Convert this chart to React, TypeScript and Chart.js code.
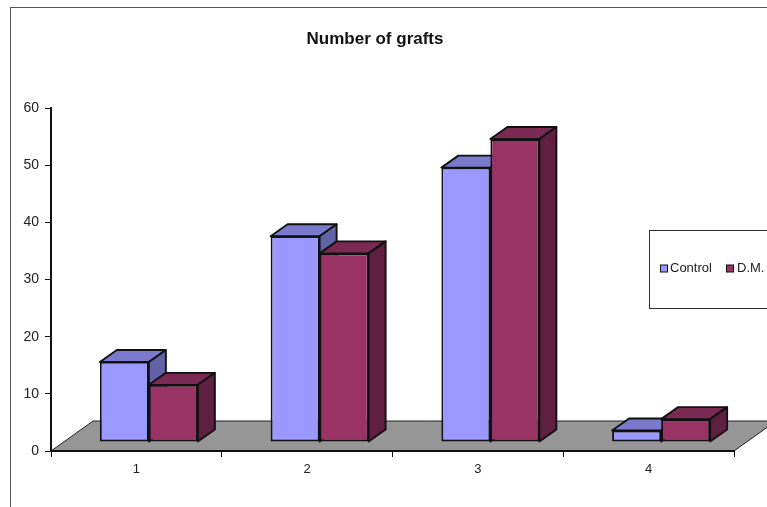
import React, { useEffect, useRef } from "react";
import { Chart, registerables } from "chart.js";

Chart.register(...registerables);

const categories = ["1", "2", "3", "4"];
const controlValues = [14, 36, 48, 2];
const dmValues = [10, 33, 53, 4];
const yTicks = { min: 0, max: 60, step: 10 };
const titleText = "Number of grafts";
const FONT = "'Liberation Sans', Arial, sans-serif";

const seriesStyles: Record<string, { front: string; top: string; side: string }> = {
  Control: { front: "#9999FF", top: "#7A7ACC", side: "#6262A8" },
  "D.M.": { front: "#993366", top: "#7A2952", side: "#5E1F40" },
};

const depth = { dx: 17, dy: -12 };
const barShift = { dx: 12.5, dy: -9 };
const floorDepth = { dx: 42, dy: -30 };
const EDGE = 1.9;

const threeD = {
  id: "threeD",
  beforeDraw(chart: any) {
    const { ctx, chartArea, scales } = chart;
    const y0 = scales.y.getPixelForValue(0);
    ctx.save();
    ctx.beginPath();
    ctx.moveTo(chartArea.left, y0);
    ctx.lineTo(chartArea.left + floorDepth.dx, y0 + floorDepth.dy);
    ctx.lineTo(chartArea.right + floorDepth.dx, y0 + floorDepth.dy);
    ctx.lineTo(chartArea.right, y0);
    ctx.closePath();
    ctx.fillStyle = "#969696";
    ctx.fill();
    ctx.strokeStyle = "#222";
    ctx.lineWidth = 1;
    ctx.stroke();
    ctx.restore();
  },
  beforeDatasetsDraw(chart: any) {
    const { ctx } = chart;
    // Paint back to front: first series (with its depth faces), then the second.
    chart.data.datasets.forEach((ds: any, i: number) => {
      const meta = chart.getDatasetMeta(i);
      const style = seriesStyles[ds.label];
      ctx.save();
      ctx.translate(barShift.dx, barShift.dy);
      ctx.strokeStyle = "#111";
      ctx.lineWidth = EDGE;
      ctx.lineJoin = "round";
      meta.data.forEach((bar: any) => {
        const p = bar.getProps(["x", "y", "base", "width"], true);
        const l = p.x - p.width / 2;
        const r = p.x + p.width / 2;
        ctx.beginPath();
        ctx.moveTo(l, p.y);
        ctx.lineTo(l + depth.dx, p.y + depth.dy);
        ctx.lineTo(r + depth.dx, p.y + depth.dy);
        ctx.lineTo(r, p.y);
        ctx.closePath();
        ctx.fillStyle = style.top;
        ctx.fill();
        ctx.stroke();
        ctx.beginPath();
        ctx.moveTo(r, p.y);
        ctx.lineTo(r + depth.dx, p.y + depth.dy);
        ctx.lineTo(r + depth.dx, p.base + depth.dy);
        ctx.lineTo(r, p.base);
        ctx.closePath();
        ctx.fillStyle = style.side;
        ctx.fill();
        ctx.stroke();
      });
      meta.controller.draw();
      ctx.restore();
    });
    return false;
  },
  afterDraw(chart: any) {
    const { ctx } = chart;
    ctx.save();
    ctx.fillStyle = "#fff";
    ctx.strokeStyle = "#333";
    ctx.lineWidth = 1;
    ctx.fillRect(649.5, 230.5, 140, 78);
    ctx.strokeRect(649.5, 230.5, 140, 78);
    ctx.font = `13px ${FONT}`;
    ctx.textBaseline = "middle";
    const items = [
      { x: 660.5, tx: 670 },
      { x: 726.5, tx: 737 },
    ];
    chart.data.datasets.forEach((ds: any, i: number) => {
      ctx.fillStyle = ds.backgroundColor;
      ctx.fillRect(items[i].x, 265, 7, 7);
      ctx.strokeStyle = "#111";
      ctx.strokeRect(items[i].x, 265, 7, 7);
      ctx.fillStyle = "#222";
      ctx.fillText(ds.label, items[i].tx, 268.5);
    });
    ctx.restore();
  },
};

export default function App() {
  const ref = useRef<HTMLCanvasElement>(null);
  useEffect(() => {
    const chart = new Chart(ref.current!, {
      type: "bar",
      data: {
        labels: categories,
        datasets: [
          { label: "Control", data: controlValues, backgroundColor: seriesStyles.Control.front, borderColor: "#111", borderWidth: EDGE, borderSkipped: false } as any,
          { label: "D.M.", data: dmValues, backgroundColor: seriesStyles["D.M."].front, borderColor: "#111", borderWidth: EDGE, borderSkipped: false } as any,
        ],
      },
      options: {
        responsive: false,
        animation: false,
        devicePixelRatio: 1,
        layout: { padding: { left: 16, right: 33, top: 0, bottom: 0 } },
        categoryPercentage: 0.574,
        barPercentage: 1,
        plugins: {
          legend: { display: false },
          tooltip: { enabled: false },
          title: {
            display: true,
            text: titleText,
            color: "#111",
            font: { family: FONT, size: 17, weight: "bold" },
            padding: { top: 29, bottom: 58.6 },
          },
        },
        scales: {
          x: {
            grid: { drawOnChartArea: false, drawTicks: true, tickLength: 6, color: "#111" },
            border: { color: "#111", width: 2 },
            ticks: { color: "#222", font: { family: FONT, size: 13 }, padding: 5, maxRotation: 0 },
            afterFit: (s: any) => { s.height = 56; },
          },
          y: {
            min: yTicks.min,
            max: yTicks.max,
            ticks: { stepSize: yTicks.step, color: "#222", font: { family: FONT, size: 14 }, padding: 6 },
            grid: { drawOnChartArea: false, drawTicks: true, tickLength: 6, color: "#111" },
            border: { color: "#111", width: 2 },
            afterFit: (s: any) => { s.width = 35; },
          },
        },
      } as any,
      plugins: [threeD],
    });
    return () => chart.destroy();
  }, []);
  return (
    <div style={{ position: "fixed", left: 0, top: 0, width: 767, height: 507, background: "#fff", overflow: "hidden" }}>
      <div style={{ position: "absolute", left: 10, top: 7, width: 780, height: 520, borderLeft: "1px solid #555", borderTop: "1px solid #555" }} />
      <canvas ref={ref} width={767} height={507} style={{ position: "absolute", left: 0, top: 0, display: "block" }} />
    </div>
  );
}
